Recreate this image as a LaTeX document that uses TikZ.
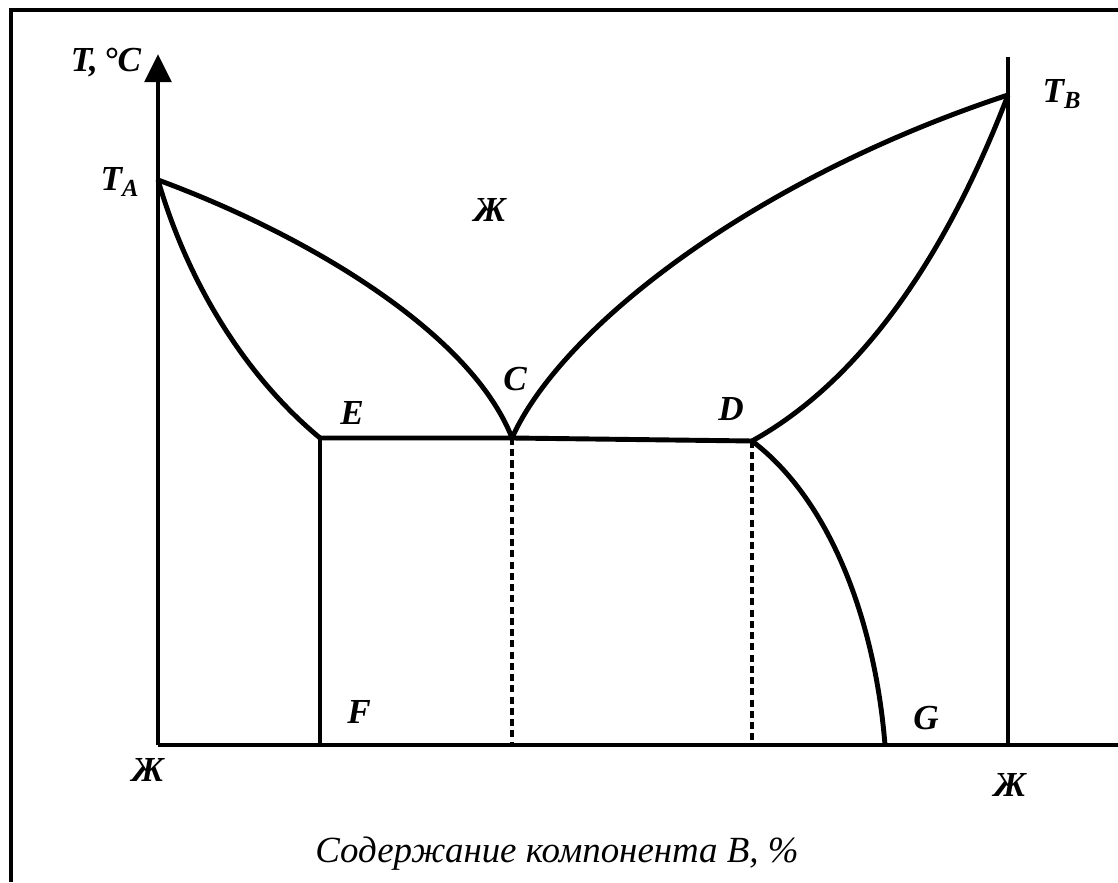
\documentclass[tikz,border=0pt]{standalone}
\usepackage{fontspec}
\setmainfont{Liberation Serif}
\usetikzlibrary{positioning,calc}
\usetikzlibrary{arrows.meta}
\tikzset{
  axis/.style={draw=black,line width=2.7pt},
  curve/.style={draw=black,line width=2.8pt},
  guide/.style={draw=black,line width=2.2pt,dash pattern=on 4pt off 2.4pt},
  lbl/.style={font=\fontsize{20}{24}\selectfont\bfseries\itshape,inner sep=1pt},
  frame/.style={draw=black,line width=2.6pt},
}
\begin{document}
\begin{tikzpicture}[x=0.02cm,y=0.02cm]
\useasboundingbox (0,0) rectangle (1118,882);
% frame
\coordinate (f0) at (11,0);
\coordinate (f1) at (11,872);
\coordinate (f2) at (1118,872);
\draw[frame] (f0) -- (f1) -- (f2);
% axes
\coordinate (o) at (158,137);
\coordinate (ytop) at (158,828);
\coordinate (xend) at (1118,137);
\coordinate (bb) at (1008,137);
\coordinate (btop) at (1008,825);
\draw[axis,-{Triangle[length=16pt,width=15pt]}] (o) -- (ytop);
\draw[axis] (o) -- (xend);
\draw[axis] (bb) -- (btop);
% points
\coordinate (ta) at (158,702);
\coordinate (tb) at (1008,787);
\coordinate (c) at (512,444);
\coordinate (e) at (320,444);
\coordinate (d) at (752,441);
\coordinate (f) at (320,137);
\coordinate (g) at (885,137);
\coordinate (c0) at (512,137);
\coordinate (d0) at (752,137);
% lines
\draw[curve] (ta) .. controls (300,650) and (470,552) .. (c);
\draw[curve] (ta) .. controls (190,592) and (250,502) .. (e);
\draw[curve] (c) .. controls (560,552) and (750,702) .. (tb);
\draw[curve] (d) .. controls (880,512) and (960,662) .. (tb);
\draw[curve] (d) .. controls (830,382) and (875,262) .. (g);
\draw[curve] (e) -- (c) -- (d);
\draw[curve] (e) -- (f);
\draw[guide] (c) -- (c0);
\draw[guide] (d) -- (d0);
% labels
\node[lbl] (tt) at (106,819) {T,\,°C};
\node[lbl] (lta) at (120,700) {T\textsubscript{A}};
\node[lbl] (ltb) at (1062,788) {T\textsubscript{B}};
\node[lbl] (liq) at (490,672) {Ж};
\node[lbl] (le) at (352,469) {E};
\node[lbl] (lc) at (515,503) {C};
\node[lbl] (ld) at (731,473) {D};
\node[lbl] (lf) at (359,170) {F};
\node[lbl] (lg) at (926,164) {G};
\node[lbl] (ja) at (148,112) {Ж};
\node[lbl] (jb) at (1010,97) {Ж};
\node[font=\fontsize{21}{25}\selectfont\itshape,inner sep=1pt] (cap) at (557,28) {Содержание компонента B, \%};
\end{tikzpicture}
\end{document}
